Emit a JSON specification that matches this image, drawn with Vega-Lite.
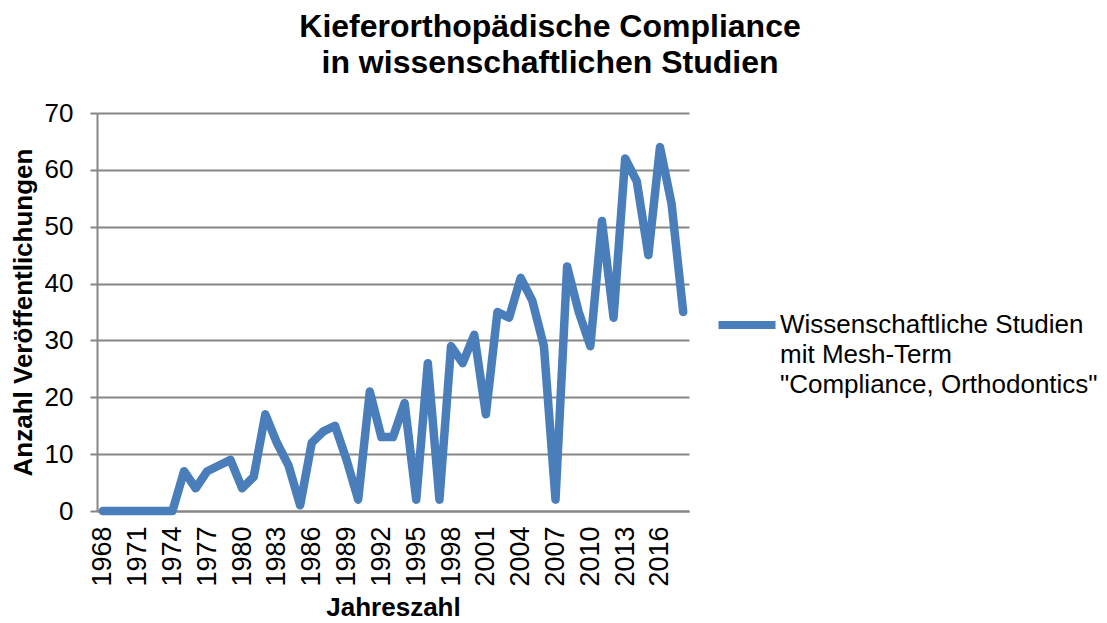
{
  "$schema": "https://vega.github.io/schema/vega-lite/v6.json",
  "width": 592,
  "height": 398,
  "autosize": "none",
  "padding": {"left": 97, "top": 113, "right": 418, "bottom": 112},
  "background": "white",
  "title": {
    "text": ["Kieferorthopädische Compliance", "in wissenschaftlichen Studien"],
    "font": "Liberation Sans",
    "fontSize": 32,
    "fontWeight": "bold",
    "color": "#000000",
    "anchor": "middle",
    "dx": 157,
    "lineHeight": 36,
    "offset": 20
  },
  "data": {
    "values": [
      {"year": 1968, "n": 0}, {"year": 1969, "n": 0}, {"year": 1970, "n": 0}, {"year": 1971, "n": 0},
      {"year": 1972, "n": 0}, {"year": 1973, "n": 0}, {"year": 1974, "n": 0}, {"year": 1975, "n": 7},
      {"year": 1976, "n": 4}, {"year": 1977, "n": 7}, {"year": 1978, "n": 8}, {"year": 1979, "n": 9},
      {"year": 1980, "n": 4}, {"year": 1981, "n": 6}, {"year": 1982, "n": 17}, {"year": 1983, "n": 12},
      {"year": 1984, "n": 8}, {"year": 1985, "n": 1}, {"year": 1986, "n": 12}, {"year": 1987, "n": 14},
      {"year": 1988, "n": 15}, {"year": 1989, "n": 9}, {"year": 1990, "n": 2}, {"year": 1991, "n": 21},
      {"year": 1992, "n": 13}, {"year": 1993, "n": 13}, {"year": 1994, "n": 19}, {"year": 1995, "n": 2},
      {"year": 1996, "n": 26}, {"year": 1997, "n": 2}, {"year": 1998, "n": 29}, {"year": 1999, "n": 26},
      {"year": 2000, "n": 31}, {"year": 2001, "n": 17}, {"year": 2002, "n": 35}, {"year": 2003, "n": 34},
      {"year": 2004, "n": 41}, {"year": 2005, "n": 37}, {"year": 2006, "n": 29}, {"year": 2007, "n": 2},
      {"year": 2008, "n": 43}, {"year": 2009, "n": 35}, {"year": 2010, "n": 29}, {"year": 2011, "n": 51},
      {"year": 2012, "n": 34}, {"year": 2013, "n": 62}, {"year": 2014, "n": 58}, {"year": 2015, "n": 45},
      {"year": 2016, "n": 64}, {"year": 2017, "n": 54}, {"year": 2018, "n": 35}
    ]
  },
  "transform": [{"calculate": "'Wissenschaftliche Studien'", "as": "series"}],
  "mark": {"type": "line", "strokeWidth": 8.5, "strokeCap": "round", "strokeJoin": "round"},
  "encoding": {
    "x": {
      "field": "year",
      "type": "ordinal",
      "scale": {"type": "point", "padding": 0.5},
      "axis": {
        "title": "Jahreszahl",
        "titleFont": "Liberation Sans",
        "titleFontSize": 26,
        "titleFontWeight": "bold",
        "titleColor": "#000000",
        "titlePadding": 8,
        "values": [1968, 1971, 1974, 1977, 1980, 1983, 1986, 1989, 1992, 1995, 1998, 2001, 2004, 2007, 2010, 2013, 2016],
        "labelAngle": -90,
        "labelFont": "Liberation Sans",
        "labelFontSize": 27,
        "labelColor": "#000000",
        "labelPadding": 15,
        "ticks": false,
        "domain": true,
        "domainColor": "#868686",
        "domainWidth": 2,
        "grid": false
      }
    },
    "y": {
      "field": "n",
      "type": "quantitative",
      "scale": {"domain": [0, 70], "nice": false},
      "axis": {
        "title": "Anzahl Veröffentlichungen",
        "titleFont": "Liberation Sans",
        "titleFontSize": 26,
        "titleFontWeight": "bold",
        "titleColor": "#000000",
        "titlePadding": 8,
        "values": [0, 10, 20, 30, 40, 50, 60, 70],
        "labelFont": "Liberation Sans",
        "labelFontSize": 26,
        "labelColor": "#000000",
        "labelPadding": 17,
        "tickSize": 7,
        "tickColor": "#868686",
        "tickWidth": 2,
        "domainColor": "#868686",
        "domainWidth": 2,
        "gridColor": "#868686",
        "gridWidth": 2
      }
    },
    "color": {
      "field": "series",
      "type": "nominal",
      "scale": {"range": ["#4a7ebb"]},
      "legend": {
        "title": null,
        "orient": "none",
        "legendX": 617,
        "legendY": 179,
        "symbolType": "stroke",
        "symbolSize": 3250,
        "symbolStrokeWidth": 8,
        "labelFont": "Liberation Sans",
        "labelFontSize": 26,
        "labelColor": "#000000",
        "labelBaseline": "middle",
        "labelOffset": 0,
        "labelLimit": 0,
        "labelExpr": "['Wissenschaftliche Studien', 'mit Mesh-Term', '\"Compliance, Orthodontics\"']"
      }
    }
  },
  "config": {
    "view": {"stroke": null},
    "style": {"guide-label": {"lineHeight": 30}}
  }
}
